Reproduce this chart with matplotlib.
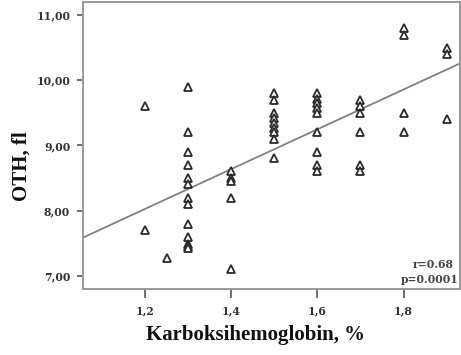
import numpy as np
import matplotlib
matplotlib.use("Agg")
import matplotlib.pyplot as plt

# Data
carboxy = [1.2, 1.2, 1.25,
           1.3, 1.3, 1.3, 1.3, 1.3, 1.3, 1.3, 1.3, 1.3, 1.3, 1.3, 1.3, 1.3,
           1.4, 1.4, 1.4, 1.4, 1.4,
           1.5, 1.5, 1.5, 1.5, 1.5, 1.5, 1.5, 1.5, 1.5,
           1.6, 1.6, 1.6, 1.6, 1.6, 1.6, 1.6, 1.6, 1.6,
           1.7, 1.7, 1.7, 1.7, 1.7, 1.7,
           1.8, 1.8, 1.8, 1.8,
           1.9, 1.9, 1.9]
oth = [9.6, 7.7, 7.27,
       9.9, 9.2, 8.9, 8.7, 8.5, 8.4, 8.2, 8.1, 7.8, 7.6, 7.48, 7.45, 7.42,
       8.6, 8.5, 8.45, 8.2, 7.1,
       9.8, 9.7, 9.5, 9.42, 9.35, 9.27, 9.2, 9.1, 8.8,
       9.8, 9.72, 9.65, 9.58, 9.5, 9.2, 8.9, 8.7, 8.6,
       9.7, 9.6, 9.5, 9.2, 8.7, 8.6,
       10.8, 10.7, 9.5, 9.2,
       10.5, 10.4, 9.4]
x_ticks = [1.2, 1.4, 1.6, 1.8]
x_tick_labels = ["1,2", "1,4", "1,6", "1,8"]
y_ticks = [7, 8, 9, 10, 11]
y_tick_labels = ["7,00", "8,00", "9,00", "10,00", "11,00"]
r_text = "r=0.68"
p_text = "p=0.0001"

serif = ["Liberation Serif", "DejaVu Serif"]
tickfont = ["DejaVu Serif"]

fig = plt.figure(figsize=(4.61, 3.55), dpi=100)
ax = fig.add_axes([0.1794, 0.186, 0.8195, 0.8096])
xlim = (1.0556, 1.932)
ax.set_xlim(*xlim)
ax.set_ylim(6.795, 11.21)

ax.plot(carboxy, oth, linestyle="none", marker="^", markersize=6.2,
        markerfacecolor="white", markeredgecolor="#2a2a2a", markeredgewidth=1.3,
        zorder=3)

slope, intercept = np.polyfit(carboxy, oth, 1)
xs = np.array(xlim)
ax.plot(xs, slope * xs + intercept, color="#808080", linewidth=1.3, zorder=2)

ax.set_xticks(x_ticks)
ax.set_xticklabels(x_tick_labels, fontfamily=tickfont, fontweight="bold", fontsize=7.8, color="#333333")
ax.set_yticks(y_ticks)
ax.set_yticklabels(y_tick_labels, fontfamily=tickfont, fontweight="bold", fontsize=7.8, color="#333333")
ax.tick_params(axis="y", direction="out", length=4.5, width=1.2, color="#555555", pad=4.5)
ax.tick_params(axis="x", direction="out", length=6.5, width=1.2, color="#555555", pad=5)

for side, sp in ax.spines.items():
    sp.set_color("#999999")
    sp.set_linewidth(1.4)

fig.text(433 / 461, 1 - 265 / 355, r_text, ha="center", va="center",
         fontfamily=tickfont, fontweight="bold", fontsize=7.8, color="#444444")
fig.text(459 / 461, 1 - 279.5 / 355, p_text, ha="right", va="center",
         fontfamily=tickfont, fontweight="bold", fontsize=7.8, color="#444444")

fig.text(255 / 461, 1 - 335 / 355, "Karboksihemoglobin, %", ha="center", va="center",
         fontfamily=serif, fontweight="bold", fontsize=15, color="#111111")
fig.text(21.5 / 461, 1 - 166 / 355, "OTH, fl", ha="center", va="center", rotation=90,
         fontfamily=serif, fontweight="bold", fontsize=15, color="#111111")

fig.savefig("out.png", dpi=100)
